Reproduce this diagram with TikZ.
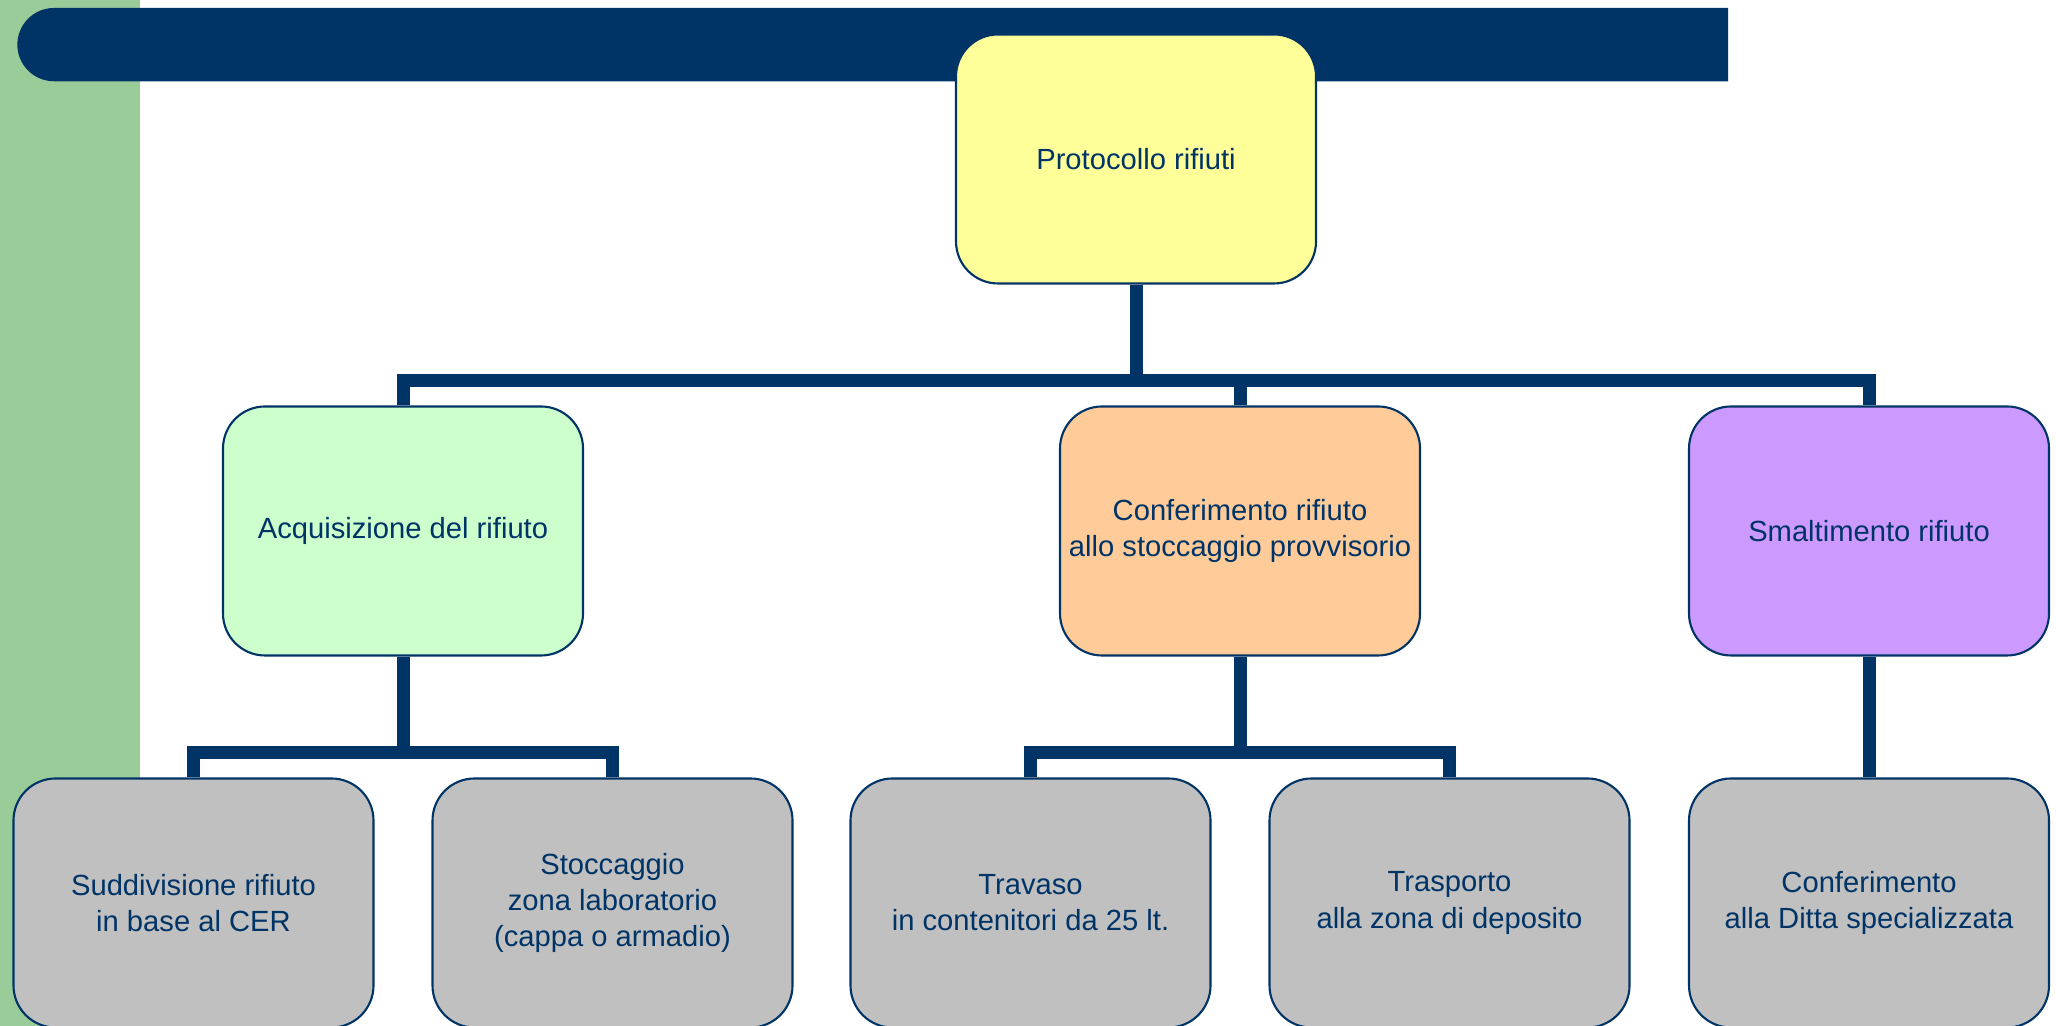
\documentclass[tikz,border=0pt]{standalone}
\usepackage{fontspec}
\setmainfont{Liberation Sans}
\usepackage{xcolor}
\usepackage{tikz}
\usetikzlibrary{positioning,trees}
\definecolor{TitleNavy}{RGB}{0,51,102}
\definecolor{StripGreen}{RGB}{153,204,153}
\definecolor{BoxYellow}{RGB}{255,255,153}
\definecolor{BoxGreen}{RGB}{204,255,204}
\definecolor{BoxOrange}{RGB}{255,204,153}
\definecolor{BoxViolet}{RGB}{204,153,255}
\definecolor{BoxGray}{RGB}{192,192,192}
\tikzset{
    boxnode/.style={rectangle, rounded corners=0.42cm, draw=TitleNavy, line width=0.6pt, text=TitleNavy, minimum width=3.6cm, minimum height=2.49cm, align=center, inner sep=2pt, font=\fontsize{8.3}{10.25}\selectfont}
}

\begin{document}
\begin{tikzpicture}[
        % Khoang cach cac cap
        level 1/.style={sibling distance=7.33cm, level distance=3.72cm},
        level 2/.style={sibling distance=4.19cm, level distance=3.72cm},
        % Duong noi vuong goc
        edge from parent/.style={draw=TitleNavy, line width=3.7pt},
        edge from parent path={(\tikzparentnode.south) |- ([yshift=0.25cm]\tikzchildnode.north) -- (\tikzchildnode.north)}
    ]
        \useasboundingbox (0,0) rectangle (20.56,10.26);

        % --- NEN: dai xanh la va thanh tieu de ---
        \fill[StripGreen] (0,0) rectangle (1.40,10.26);
        \fill[TitleNavy] (17.28,9.447) -- (0.54,9.447) arc (270:90:0.3665) -- (17.28,10.18) -- cycle;

        % --- CAY ---
        \node[boxnode, fill=BoxYellow] (root) at (11.36,8.67) {Protocollo rifiuti}
            % Nhanh trai
            child { node[boxnode, fill=BoxGreen] (acq) {Acquisizione del rifiuto}
                child { node[boxnode, fill=BoxGray] (sudd) {Suddivisione rifiuto\\ in base al CER} }
                child { node[boxnode, fill=BoxGray] (stocc) {Stoccaggio\\ zona laboratorio\\ (cappa o armadio)} }
            }
            % Nhanh giua (lech sang phai)
            child[xshift=1.04cm] { node[boxnode, fill=BoxOrange] (conf) {Conferimento rifiuto\\ allo stoccaggio provvisorio}
                child { node[boxnode, fill=BoxGray] (trav) {Travaso\\ in contenitori da 25 lt.} }
                child { node[boxnode, fill=BoxGray] (trasp) {Trasporto\\ alla zona di deposito} }
            }
            % Nhanh phai
            child { node[boxnode, fill=BoxViolet] (smalt) {Smaltimento rifiuto}
                child { node[boxnode, fill=BoxGray] (ditta) {Conferimento\\ alla Ditta specializzata} }
            };

    \end{tikzpicture}
\end{document}
